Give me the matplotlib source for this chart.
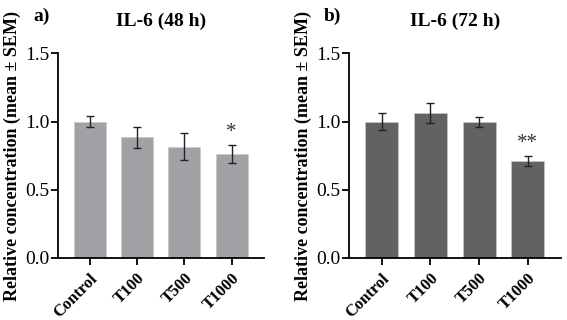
import matplotlib.pyplot as plt
import numpy as np

plt.rcParams['font.family'] = ['Liberation Serif', 'DejaVu Serif']

groups = ['Control', 'T100', 'T500', 'T1000']

mean_48 = [1.00, 0.885, 0.815, 0.76]
sem_48 = [0.04, 0.077, 0.10, 0.066]
sig_48 = ['', '', '', '*']

mean_72 = [1.00, 1.065, 0.995, 0.71]
sem_72 = [0.06, 0.075, 0.037, 0.038]
sig_72 = ['', '', '', '**']

panels = [
    ('a)', 'IL-6 (48 h)', mean_48, sem_48, sig_48, '#a2a2a6', [0.102, 0.194, 0.363, 0.639]),
    ('b)', 'IL-6 (72 h)', mean_72, sem_72, sig_72, '#626262', [0.615, 0.194, 0.374, 0.639]),
]

fig = plt.figure(figsize=(5.67, 3.2), dpi=100)

for letter, title, m, e, sig, col, rect in panels:
    ax = fig.add_axes(rect)
    x = np.arange(len(groups))
    ax.bar(x, m, width=0.68, color=col, edgecolor='#c8c8c8', linewidth=0.5, zorder=2)
    ax.errorbar(x, m, yerr=e, fmt='none', ecolor='#222222', elinewidth=1.0,
                capsize=3, capthick=1.0, zorder=3)
    for xi, mi, ei, s in zip(x, m, e, sig):
        if s:
            ax.text(xi, mi + ei + 0.025, s, ha='center', va='bottom', fontsize=15, color='#333333')
    ax.set_xlim(-0.68, 3.68)
    ax.set_ylim(0, 1.5)
    ax.set_yticks([0.0, 0.5, 1.0, 1.5])
    ax.set_yticklabels(['0.0', '0.5', '1.0', '1.5'], fontsize=14)
    ax.set_xticks(x)
    ax.set_xticklabels(groups, rotation=45, ha='right', rotation_mode='anchor',
                       fontsize=12, fontweight='bold')
    ax.tick_params(axis='both', direction='out', length=5, width=1.3, pad=1)
    ax.tick_params(axis='x', pad=4)
    for s in ['top', 'right']:
        ax.spines[s].set_visible(False)
    for s in ['left', 'bottom']:
        ax.spines[s].set_linewidth(1.3)
    ax.set_ylabel('Relative concentration (mean ± SEM)', fontsize=13, fontweight='bold', labelpad=3)
    ax.set_title(title, fontsize=14, fontweight='bold', pad=20)
    fig.text(rect[0] - 0.028, 0.948, letter, fontsize=14, fontweight='bold', ha='center', va='center')

fig.savefig('out.png', dpi=100)
